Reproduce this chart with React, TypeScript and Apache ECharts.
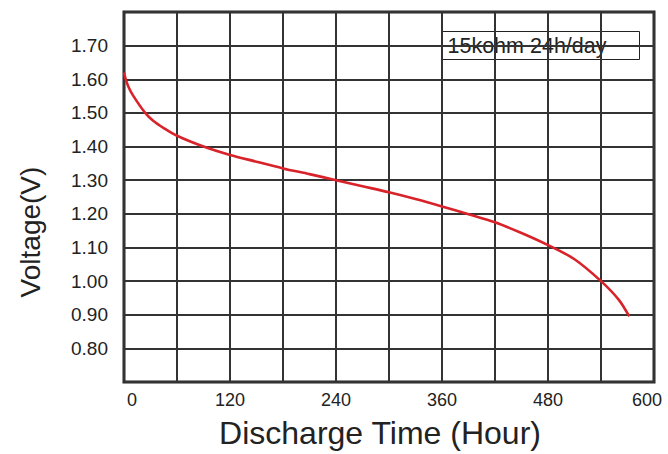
import React, { useEffect, useRef } from "react";
import * as echarts from "echarts";

const hours = [0, 2, 5, 10, 24, 33, 45, 60, 90, 120, 150, 180, 210, 240, 270, 300, 330, 360, 390, 420, 450, 480, 510, 540, 560, 572];
const voltage = [1.62, 1.6, 1.578, 1.553, 1.5, 1.477, 1.455, 1.432, 1.4, 1.375, 1.355, 1.335, 1.318, 1.3, 1.282, 1.264, 1.244, 1.222, 1.199, 1.175, 1.143, 1.107, 1.065, 1.0, 0.945, 0.895];
const xLabelHours = [0, 120, 240, 360, 480, 600];
const yLabelVolts = [0.8, 0.9, 1.0, 1.1, 1.2, 1.3, 1.4, 1.5, 1.6, 1.7];
const annotation = "15kohm 24h/day";
const xName = "Discharge Time (Hour)";
const yName = "Voltage(V)";

const FONT = "'Liberation Sans', Arial, Helvetica, sans-serif";

export default function App() {
  const ref = useRef<HTMLDivElement>(null);
  useEffect(() => {
    if (!ref.current) return;
    const chart = echarts.init(ref.current, undefined, { renderer: "svg" });
    const points = hours.map((h, i) => [h, voltage[i]]);
    chart.setOption({
      animation: false,
      backgroundColor: "#ffffff",
      textStyle: { fontFamily: FONT },
      grid: {
        left: 124,
        right: 14,
        top: 12,
        bottom: 68,
        show: true,
        borderColor: "#222",
        borderWidth: 3,
        backgroundColor: "transparent",
      },
      xAxis: {
        type: "value",
        min: 0,
        max: 600,
        interval: 60,
        name: xName,
        nameLocation: "middle",
        nameGap: 35,
        nameTextStyle: { fontSize: 32, color: "#222", fontFamily: FONT, padding: [0, 18, 0, 0] },
        axisLine: { show: false },
        axisTick: { show: false },
        splitLine: { show: true, lineStyle: { color: "#333", width: 2 } },
        axisLabel: {
          margin: 9,
          fontSize: 18,
          color: "#222",
          fontFamily: FONT,
          formatter: (v: number) => {
            const r = Math.round(v);
            if (!xLabelHours.includes(r)) return "";
            if (r === 0) return "{a|0}";
            if (r === 600) return "{b|600}";
            return String(r);
          },
          rich: {
            a: { fontSize: 18, color: "#222", fontFamily: FONT, padding: [0, 0, 0, 16] },
            b: { fontSize: 18, color: "#222", fontFamily: FONT, padding: [0, 14, 0, 0] },
          },
        },
      },
      yAxis: {
        type: "value",
        min: 0.7,
        max: 1.8,
        interval: 0.1,
        name: yName,
        nameLocation: "middle",
        nameGap: 80,
        nameTextStyle: { fontSize: 28, color: "#222", fontFamily: FONT, padding: [0, 70, 0, 0] },
        axisLine: { show: false },
        axisTick: { show: false },
        splitLine: { show: true, lineStyle: { color: "#333", width: 2 } },
        axisLabel: {
          margin: 16,
          fontSize: 19,
          color: "#222",
          fontFamily: FONT,
          formatter: (v: number) => {
            const r = Math.round(v * 100) / 100;
            return yLabelVolts.some((y) => Math.abs(y - r) < 1e-6) ? r.toFixed(2) : "";
          },
        },
      },
      series: [
        {
          type: "line",
          data: points,
          smooth: 0.3,
          showSymbol: false,
          symbol: "none",
          lineStyle: { color: "#d8232a", width: 2.6 },
          z: 5,
        },
      ],
      graphic: [
        {
          type: "group",
          left: 442,
          top: 31,
          z: 10,
          children: [
            {
              type: "rect",
              shape: { x: 0, y: 0, width: 197, height: 28 },
              style: { fill: "#fff", stroke: "#222", lineWidth: 1 },
            },
            {
              type: "text",
              x: 5,
              y: 14,
              style: {
                text: annotation,
                fontSize: 21.5,
                fontFamily: FONT,
                fill: "#222",
                verticalAlign: "middle",
                align: "left",
              },
            },
          ],
        },
      ],
    });
    return () => chart.dispose();
  }, []);
  return (
    <div
      ref={ref}
      style={{ position: "fixed", left: 0, top: 0, width: 668, height: 454, background: "#fff" }}
    />
  );
}
